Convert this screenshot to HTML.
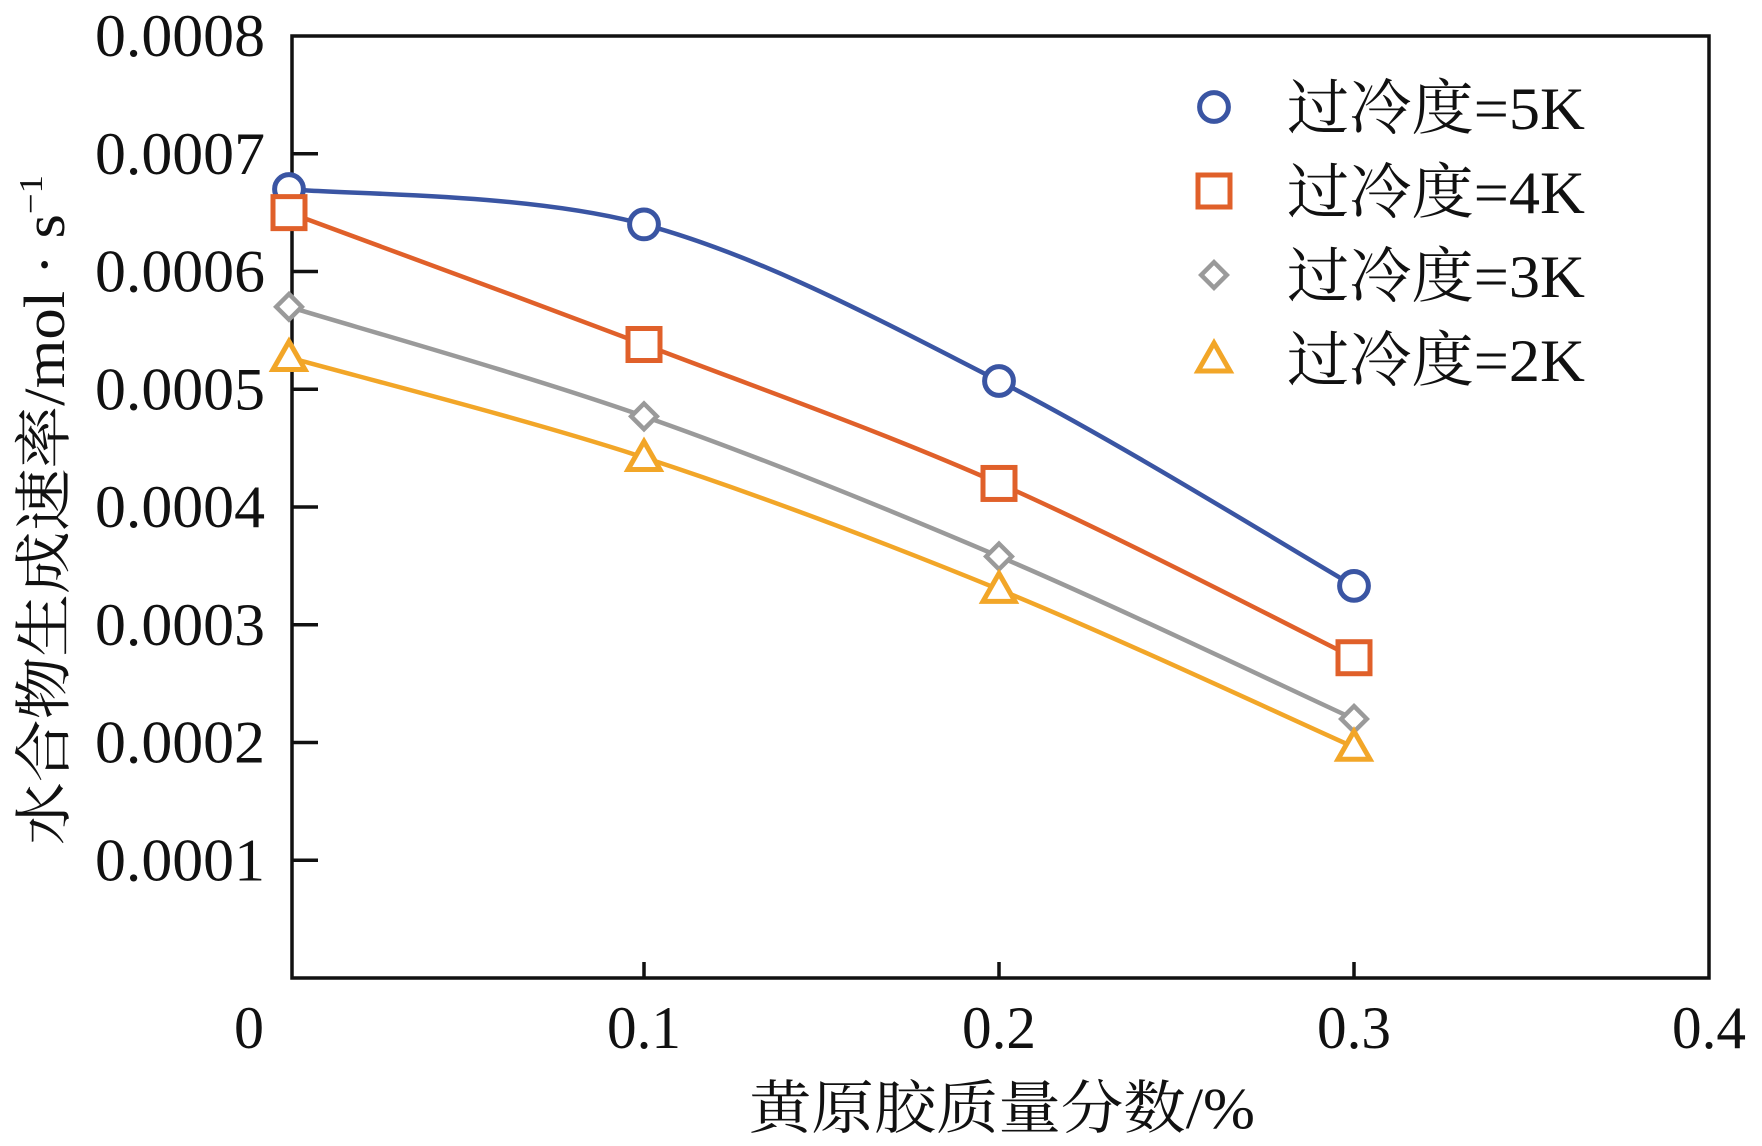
<!DOCTYPE html>
<html><head><meta charset="utf-8"><style>
html,body{margin:0;padding:0;background:#fff;width:1762px;height:1146px;overflow:hidden}
svg text{font-family:"Liberation Serif","Noto Serif CJK SC","Noto Sans CJK SC",serif;fill:#111}
</style></head><body>
<svg id="chart" width="1762" height="1146" viewBox="0 0 1762 1146" xmlns="http://www.w3.org/2000/svg">
<rect x="292" y="36" width="1417" height="942" fill="none" stroke="#111" stroke-width="3.5"/>
<g id="ticks"></g>
<g id="series"></g>
<g id="legend"></g>
<text transform="translate(64,510) rotate(-90)" text-anchor="middle" font-size="58" textLength="670" lengthAdjust="spacingAndGlyphs">水合物生成速率/mol · s<tspan dy="-22" font-size="34">−1</tspan></text>
<text x="1002" y="1128" text-anchor="middle" font-size="58" textLength="506" lengthAdjust="spacingAndGlyphs">黄原胶质量分数/%</text>
</svg>
<script>
const xValues=[0,0.1,0.2,0.3];
const s5=[0.00067,0.00064,0.000507,0.000333];
const s4=[0.00065,0.000538,0.00042,0.000272];
const s3=[0.00057,0.000477,0.000358,0.00022];
const s2=[0.000527,0.000442,0.00033,0.000196];
const seriesLabels=["过冷度=5K","过冷度=4K","过冷度=3K","过冷度=2K"];
const xTicks=[0,0.1,0.2,0.3,0.4];
const xTickLabels=["0","0.1","0.2","0.3","0.4"];
const yTicks=[0.0001,0.0002,0.0003,0.0004,0.0005,0.0006,0.0007,0.0008];
const yTickLabels=["0.0001","0.0002","0.0003","0.0004","0.0005","0.0006","0.0007","0.0008"];

const L=292,R=1709,T=36,B=978;
const xs=v=>289+v/0.4*(R-289);
const ys=v=>B-v/0.0008*(B-T);
const NS="http://www.w3.org/2000/svg";
function mk(tag,attrs,parent){const e=document.createElementNS(NS,tag);for(const k in attrs)e.setAttribute(k,attrs[k]);parent.appendChild(e);return e;}
const tg=document.getElementById('ticks');
xTicks.forEach((v,i)=>{
  if(v>0&&v<0.4){const t=mk('line',{x1:xs(v),x2:xs(v),y1:B,y2:B-16,stroke:'#111','stroke-width':3.5},tg);
  
  }
  const attrs={x:xs(v)-(v===0?40:0),y:1048,'text-anchor':'middle','font-size':60};
  if(xTickLabels[i].length>1){attrs.textLength=74;attrs.lengthAdjust='spacingAndGlyphs';}
  const lb=mk('text',attrs,tg);
  lb.textContent=xTickLabels[i];
  
  
});
yTicks.forEach((v,i)=>{
  if(v<0.0008){const t=mk('line',{x1:L,x2:L+26,y1:ys(v),y2:ys(v),stroke:'#111','stroke-width':3.5},tg);
  
  }
  const lb=mk('text',{x:265,y:ys(v)+20,'text-anchor':'end','font-size':60,textLength:170,lengthAdjust:'spacingAndGlyphs'},tg);
  lb.textContent=yTickLabels[i];
  
  
});
const colors=['#3a55a3','#e0602a','#9a9a9a','#f2a628'];
const shapes=['circle','square','diamond','triangle'];
const data=[s5,s4,s3,s2];
function marker(g,shape,x,y,c,sz){
  let e;
  if(shape==='circle') e=mk('circle',{cx:x,cy:y,r:sz*0.9,fill:'#fff',stroke:c,'stroke-width':5},g);
  else if(shape==='square') e=mk('rect',{x:x-sz,y:y-sz,width:2*sz,height:2*sz,fill:'#fff',stroke:c,'stroke-width':5},g);
  else if(shape==='diamond') e=mk('polygon',{points:`${x},${y-sz*0.8} ${x+sz*0.8},${y} ${x},${y+sz*0.8} ${x-sz*0.8},${y}`,fill:'#fff',stroke:c,'stroke-width':4.5},g);
  else e=mk('polygon',{points:`${x},${y-sz} ${x+sz},${y+sz*0.75} ${x-sz},${y+sz*0.75}`,fill:'#fff',stroke:c,'stroke-width':5},g);
  return e;
}
const sg=document.getElementById('series');
data.forEach((arr,si)=>{
  const p=arr.map((v,i)=>[xs(xValues[i]),ys(v)]);
  let d=`M${p[0][0]},${p[0][1]}`;
  for(let i=0;i<p.length-1;i++){
    const p0=p[i-1]||p[i],p1=p[i],p2=p[i+1],p3=p[i+2]||p[i+1];
    const c1=[p1[0]+(p2[0]-p0[0])/6,p1[1]+(p2[1]-p0[1])/6];
    const c2=[p2[0]-(p3[0]-p1[0])/6,p2[1]-(p3[1]-p1[1])/6];
    d+=` C${c1[0]},${c1[1]} ${c2[0]},${c2[1]} ${p2[0]},${p2[1]}`;
  }
  const path=mk('path',{d:d,fill:'none',stroke:colors[si],'stroke-width':4.5},sg);
  
  
  p.forEach(pt=>{
    const m=marker(sg,shapes[si],pt[0],pt[1],colors[si],16);
    
    
  });
});
const lg=document.getElementById('legend');
seriesLabels.forEach((s,i)=>{
  const y=107+i*84;
  const m=marker(lg,shapes[i],1214,y,colors[i],16);
  
  
  const t=mk('text',{x:1287,y:y+22,'font-size':60,textLength:298,lengthAdjust:'spacingAndGlyphs'},lg);
  t.textContent=s;
  
  
});
</script>
</body></html>
